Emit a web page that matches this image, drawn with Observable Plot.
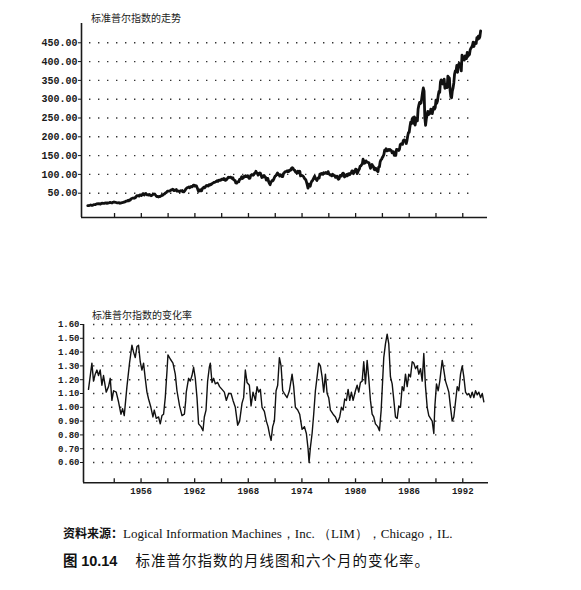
<!DOCTYPE html>
<html><head><meta charset="utf-8">
<script src="https://cdn.jsdelivr.net/npm/d3@7"></script>
<script src="https://cdn.jsdelivr.net/npm/@observablehq/plot@0.6"></script>
<style>
body{margin:0;background:#fff;}
#wrap{position:relative;width:581px;height:590px;overflow:hidden;background:#fff;}
#wrap svg{position:absolute;left:0;}
.ttl{position:absolute;font-family:"Noto Sans CJK SC";font-size:10px;color:#222;white-space:nowrap;line-height:1;}
.cap{position:absolute;left:63px;white-space:nowrap;color:#111;line-height:1;}
.b{font-family:"Noto Sans CJK SC";font-weight:bold;}
</style></head>
<body><div id="wrap">
<div class="ttl" style="left:91px;top:13px;">标准普尔指数的走势</div>
<div class="ttl" style="left:92px;top:310px;">标准普尔指数的变化率</div>
<div class="cap" style="top:527px;font-size:12px;"><span class="b">资料来源：</span><span style="font-family:'Liberation Serif';font-size:13px;">Logical Information Machines，Inc. （LIM），Chicago，IL.</span></div>
<div class="cap" style="top:553px;font-size:14.5px;"><span class="b">图</span> <span style="font-family:'Liberation Sans';font-weight:bold;">10.14</span><span style="font-family:'Noto Sans CJK SC';margin-left:18px;letter-spacing:1px;">标准普尔指数的月线图和六个月的变化率。</span></div>
</div>
<script>
// S&P index, monthly, starting January 1950
const priceStartYear = 1950;
const price1950s = [
 17.0,17.2,17.3,18.0,18.8,17.7,17.8,18.4,19.5,19.5,19.5,20.4,
 21.7,22.0,21.5,22.4,21.5,21.0,22.4,23.3,23.3,22.9,22.9,23.8,
 24.1,23.3,24.4,23.3,23.9,25.0,25.4,25.0,24.5,24.5,26.0,26.6,
 26.4,25.9,25.3,24.6,24.5,24.1,24.8,23.3,23.4,24.5,24.8,24.8,
 26.1,26.2,26.9,28.3,29.2,29.2,30.9,29.8,32.3,31.7,34.2,36.0,
 36.6,37.0,36.6,38.0,37.9,41.0,43.5,43.2,43.7,42.3,45.5,45.5,
 43.8,45.3,48.5,48.4,45.2,47.0,49.4,47.5,45.4,45.6,45.1,46.7,
 44.7,43.3,44.1,45.7,47.4,47.4,47.9,45.2,42.4,41.1,41.7,40.0,
 41.7,40.8,42.1,43.4,44.1,45.2,47.2,48.0,50.1,51.3,52.5,55.2,
 55.4,55.4,55.4,57.6,58.7,58.5,60.5,59.6,56.9,57.5,58.3,59.9];
const price1960s = [
 55.6,56.1,55.3,54.4,55.8,56.9,55.5,57.0,53.5,53.4,55.5,58.1,
 61.8,63.4,65.1,65.3,66.6,64.6,66.8,68.1,66.7,68.6,71.3,71.6,
 68.8,70.0,69.6,65.2,59.6,54.8,58.2,59.1,56.3,56.5,62.3,63.1,
 66.2,64.3,66.6,69.8,70.8,69.4,69.1,72.5,71.7,74.0,73.2,75.0,
 77.0,77.8,79.0,79.5,80.4,81.7,83.2,81.8,84.2,84.9,84.4,84.8,
 87.6,87.4,86.2,89.1,88.4,84.1,85.3,87.2,90.0,92.4,91.6,92.4,
 92.9,91.2,89.2,91.1,86.1,84.7,83.6,77.1,76.6,80.2,80.5,80.3,
 86.6,86.8,90.2,94.0,89.1,90.6,94.8,93.6,96.7,93.9,94.0,96.5,
 92.2,89.4,90.2,97.5,98.7,99.6,97.7,98.9,102.7,103.4,108.4,103.9,
 103.0,98.1,101.5,103.7,103.5,97.7,91.8,95.5,93.1,97.2,93.8,92.1];
const price1970s = [
 85.0,89.5,89.6,81.5,76.6,72.7,78.1,81.5,84.2,83.3,87.2,92.2,
 95.9,96.8,100.3,104.0,99.6,99.7,95.6,99.0,98.3,94.2,94.0,102.1,
 103.9,106.6,107.2,107.7,109.5,107.1,107.4,111.1,110.6,111.6,116.7,118.1,
 116.0,111.7,111.5,107.0,105.0,104.3,108.2,104.3,108.4,108.3,96.0,97.6,
 96.6,96.2,94.0,90.3,87.3,86.0,79.3,72.2,63.5,73.9,70.0,68.6,
 77.0,81.6,83.4,87.3,91.2,95.2,88.8,86.9,83.9,89.0,91.2,90.2,
 100.9,99.7,102.8,101.6,100.2,104.3,103.4,102.9,105.2,102.9,102.1,107.5,
 102.0,99.8,98.4,98.4,96.1,100.5,98.9,96.8,96.5,92.3,94.8,95.1,
 89.3,87.0,89.2,96.8,97.3,95.5,100.7,103.3,102.5,93.2,94.7,96.1,
 99.9,96.3,101.6,101.8,99.1,102.9,103.8,109.3,109.3,101.8,106.2,107.9];
const price1980s = [
 114.2,113.7,102.1,106.3,111.2,114.2,121.7,122.4,125.5,127.5,140.5,135.8,
 129.6,131.3,136.0,132.8,132.6,131.2,130.9,122.8,116.2,121.9,126.4,122.6,
 120.4,113.1,112.0,116.4,111.9,109.6,107.1,119.5,120.4,133.7,138.5,140.6,
 145.3,148.1,153.0,164.4,162.4,168.1,162.6,164.4,166.1,163.6,166.4,164.9,
 163.4,157.1,159.2,160.1,150.6,153.2,150.7,166.7,166.1,166.1,163.6,167.2,
 179.6,181.2,180.7,179.8,189.6,191.9,190.9,188.6,182.1,189.8,202.2,211.3,
 211.8,226.9,238.9,235.5,247.4,250.8,236.1,252.9,231.3,244.0,249.2,242.2,
 274.1,284.2,291.7,288.4,290.1,304.0,318.7,329.8,321.8,251.8,230.3,247.1,
 257.1,267.8,258.9,261.3,262.2,273.5,272.0,261.5,271.9,279.0,273.7,277.7,
 297.5,288.9,294.9,309.6,320.5,318.0,346.1,351.5,349.2,340.4,346.0,353.4];
const price1990s = [
 329.1,331.9,339.9,330.8,361.2,358.0,356.2,322.6,306.1,304.0,322.2,330.2,
 343.9,367.1,375.2,375.3,389.8,371.2,387.8,395.4,387.9,392.5,375.2,417.1,
 408.8,412.7,403.7,415.0,415.4,408.1,424.2,414.0,417.8,418.7,431.4,435.7,
 438.8,443.4,451.7,440.2,450.2,450.5,448.1,463.6,458.9,467.8,461.8,466.5,
 481.6];

// rate of change (ratio)
const rateYears = [
 1950.12,1950.50,1950.68,1950.87,1951.06,1951.24,1951.43,1951.62,1951.80,1952.10,1952.36,1952.55,1952.74,1952.93,
 1953.22,1953.48,1953.75,1953.93,1954.12,1954.42,1954.71,1954.98,1955.16,1955.35,1955.54,1955.72,1955.91,
 1956.10,1956.28,1956.47,1956.66,1956.84,1957.10,1957.33,1957.48,1957.70,1957.96,1958.15,1958.34,1958.52,1958.71,1958.90,
 1959.01,1959.27,1959.57,1959.83,1960.02,1960.31,1960.58,1960.85,1961.00,1961.06,1961.32,1961.51,1961.70,1961.88,
 1962.07,1962.26,1962.44,1962.71,1962.93,1963.08,1963.27,1963.45,1963.64,1963.75,1963.94,1964.12,1964.31,1964.57,1964.79,
 1965.06,1965.32,1965.54,1965.80,1966.07,1966.29,1966.55,1966.81,1967.03,1967.30,1967.48,1967.67,1967.86,
 1968.12,1968.31,1968.53,1968.79,1968.98,1969.16,1969.35,1969.54,1969.80,1970.02,1970.21,1970.39,1970.55,1970.73,1970.92,
 1971.11,1971.29,1971.48,1971.67,1971.85,1972.04,1972.34,1972.60,1972.90,1973.08,1973.27,1973.53,1973.75,
 1974.02,1974.28,1974.50,1974.69,1974.80,1974.95,1975.14,1975.32,1975.51,1975.70,1975.88,1976.07,1976.26,1976.44,1976.63,1976.82,
 1977.00,1977.19,1977.49,1977.75,1978.00,1978.23,1978.42,1978.61,1978.79,1978.98,1979.17,1979.35,1979.54,1979.73,1979.99,
 1980.18,1980.36,1980.55,1980.74,1980.92,1981.11,1981.30,1981.48,1981.67,1981.86,1982.04,1982.23,1982.49,1982.68,1982.87,
 1983.00,1983.16,1983.35,1983.54,1983.72,1983.91,1984.10,1984.29,1984.47,1984.66,1984.84,1985.03,1985.22,1985.40,1985.59,1985.78,1985.96,
 1986.15,1986.34,1986.52,1986.71,1986.90,1987.08,1987.27,1987.46,1987.64,1987.83,1988.02,1988.20,1988.39,1988.58,1988.76,1988.87,
 1989.06,1989.25,1989.43,1989.70,1989.88,1990.07,1990.26,1990.44,1990.63,1990.82,1991.00,1991.19,1991.38,1991.56,1991.75,1991.94,
 1992.12,1992.31,1992.50,1992.68,1992.87,1993.06,1993.24,1993.43,1993.62,1993.80,1993.99,1994.18,1994.36];
const rateValues = [
 1.13,1.32,1.19,1.24,1.27,1.23,1.27,1.16,1.23,1.11,1.15,1.21,1.05,1.12,
 1.11,1.04,0.95,0.99,0.94,1.15,1.32,1.45,1.40,1.36,1.44,1.45,1.33,
 1.27,1.32,1.21,1.11,1.06,1.00,0.93,0.98,0.92,0.93,0.88,0.94,0.95,1.07,1.26,
 1.38,1.35,1.32,1.24,1.12,1.01,0.94,0.95,1.05,1.11,1.21,1.19,1.23,1.29,
 1.21,1.07,0.88,0.86,0.83,0.93,0.98,1.19,1.29,1.32,1.18,1.21,1.17,1.18,1.15,
 1.13,1.11,1.05,1.10,1.10,1.05,1.00,0.87,0.90,1.03,1.07,1.27,1.18,
 1.16,1.01,1.11,1.05,1.15,1.11,1.13,1.00,0.97,0.90,0.86,0.80,0.76,0.86,0.90,
 1.12,1.16,1.36,1.30,1.12,1.10,1.07,1.12,1.24,1.15,1.00,0.98,0.95,
 0.84,0.86,0.81,0.70,0.60,0.71,0.81,0.95,1.12,1.22,1.32,1.30,1.22,1.11,1.24,1.10,
 1.07,0.98,0.95,0.93,0.89,0.93,1.00,0.98,1.06,1.05,1.13,1.05,1.11,1.05,1.12,
 1.16,1.11,1.18,1.19,1.33,1.17,1.34,1.21,1.05,0.95,0.93,0.88,0.86,0.83,0.98,
 1.15,1.36,1.46,1.53,1.46,1.22,1.17,1.05,0.93,0.92,1.01,1.00,1.15,1.12,1.24,1.15,1.24,
 1.22,1.33,1.32,1.28,1.30,1.24,1.28,1.19,1.39,1.15,1.00,0.94,0.92,0.90,0.81,1.00,
 1.17,1.12,1.19,1.34,1.27,1.19,1.15,1.11,1.00,0.90,0.93,1.04,1.15,1.12,1.24,1.30,
 1.22,1.11,1.09,1.10,1.07,1.11,1.07,1.12,1.09,1.11,1.07,1.10,1.04];

const yearTicks = [1953,1956,1959,1962,1965,1968,1971,1974,1977,1980,1983,1986,1989,1992];
const yearLabels = [1956,1962,1968,1974,1980,1986,1992];
const priceTicks = [50,100,150,200,250,300,350,400,450];
const rateTicks = [0.6,0.7,0.8,0.9,1.0,1.1,1.2,1.3,1.4,1.5,1.6];

const priceMonthly = [...price1950s, ...price1960s, ...price1970s, ...price1980s, ...price1990s];
const priceData = priceMonthly.map((v, i) => ({t: priceStartYear + i / 12, v}));
const rateData = rateYears.map((t, i) => ({t, v: rateValues[i]}));

const ink = "#1a1a1a";
const dotGrid = {stroke: "#333", strokeOpacity: 1, strokeWidth: 1.4, strokeDasharray: "1.4,7.6"};

const topX = [1949.3, 1994.77], topY = [-14.6, 501.3];
const topChart = Plot.plot({
  width: 581, height: 230,
  marginLeft: 81, marginRight: 94, marginTop: 23, marginBottom: 13,
  style: {background: "transparent", color: ink, fontFamily: "Liberation Mono", fontSize: "10px"},
  x: {domain: topX},
  y: {domain: topY},
  marks: [
    Plot.gridY(priceTicks, {...dotGrid, insetLeft: 8, insetRight: 12}),
    Plot.axisY(priceTicks, {tickFormat: d3.format(".2f"), tickSize: 3, tickPadding: 1, label: null, fontSize: 10, fontWeight: "bold"}),
    Plot.axisX(yearTicks, {tickSize: -4, tickFormat: () => "", label: null, strokeWidth: 1.3}),
    Plot.ruleX([topX[0]], {stroke: ink, strokeWidth: 1.6}),
    Plot.ruleY([topY[0]], {stroke: ink, strokeWidth: 1.6}),
    Plot.line(priceData, {x: "t", y: "v", stroke: "#111", strokeWidth: 2.8, strokeLinejoin: "round"})
  ]
});
topChart.style.top = "0px";
document.getElementById("wrap").appendChild(topChart);

const botX = [1949.56, 1994.88], botY = [0.453, 1.60];
const botChart = Plot.plot({
  width: 581, height: 210,
  marginLeft: 83, marginRight: 93, marginTop: 24, marginBottom: 27.7,
  style: {background: "transparent", color: ink, fontFamily: "Liberation Mono", fontSize: "9px"},
  x: {domain: botX},
  y: {domain: botY},
  marks: [
    Plot.gridY(rateTicks, {...dotGrid, insetLeft: 10, insetRight: 13}),
    Plot.axisY(rateTicks, {tickFormat: d3.format(".2f"), tickSize: 3, tickPadding: 1, label: null, fontSize: 9, fontWeight: "bold"}),
    Plot.axisX(yearTicks, {tickSize: -4, tickFormat: () => "", label: null, strokeWidth: 1.3}),
    Plot.axisX(yearLabels, {tickSize: 0, tickPadding: 5, tickFormat: d => String(d), label: null, fontSize: 9, fontWeight: "bold"}),
    Plot.ruleX([botX[0]], {stroke: ink, strokeWidth: 1.6}),
    Plot.ruleY([botY[0]], {stroke: ink, strokeWidth: 1.6}),
    Plot.line(rateData, {x: "t", y: "v", stroke: "#111", strokeWidth: 1.4, strokeLinejoin: "round"})
  ]
});
botChart.style.top = "300px";
document.getElementById("wrap").appendChild(botChart);
</script>
</body></html>
